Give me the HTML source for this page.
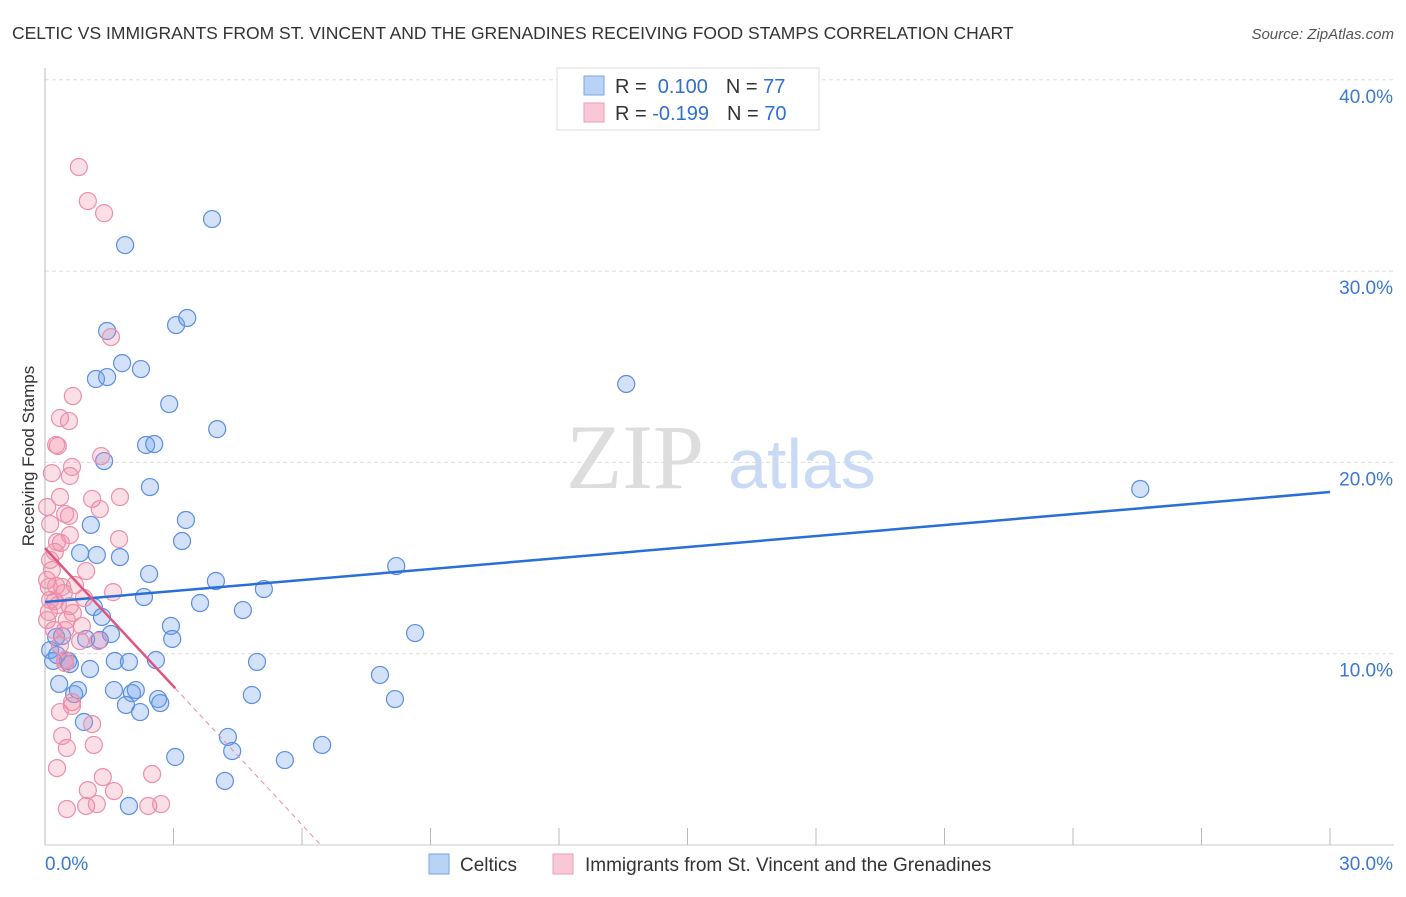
<!DOCTYPE html>
<html><head><meta charset="utf-8"><style>
body{margin:0;background:#fff;font-family:"Liberation Sans",sans-serif}
</style></head><body>
<svg id="chart" width="1406" height="892" xmlns="http://www.w3.org/2000/svg" font-family="Liberation Sans, sans-serif">
<text x="12" y="39" font-size="17.5" fill="#333">CELTIC VS IMMIGRANTS FROM ST. VINCENT AND THE GRENADINES RECEIVING FOOD STAMPS CORRELATION CHART</text>
<text x="1394" y="39" font-size="15" fill="#555" font-style="italic" text-anchor="end">Source: ZipAtlas.com</text>
<g>
<text x="635" y="488" font-size="92" fill="#ddd" font-family="Liberation Serif, serif" text-anchor="middle">ZIP</text>
<text x="802" y="488" font-size="70" fill="#c9daf4" text-anchor="middle">atlas</text>
</g>
<g id="grid"></g>
<g id="axes"></g>
<g id="pts"></g>
<g id="trends"></g>
<text transform="translate(34,456) rotate(-90)" font-size="17" fill="#333" text-anchor="middle">Receiving Food Stamps</text>
<g>
<rect x="557" y="68" width="262" height="62" fill="#fff" stroke="#ddd"/>
<rect x="584" y="76" width="20" height="19" fill="#b9d3f7" stroke="#7aa6e6"/>
<rect x="584" y="103" width="20" height="19" fill="#f9c8d6" stroke="#ee9db5"/>
<text x="615" y="93" font-size="20" fill="#333">R = <tspan fill="#2f6fd0">&#160;0.100</tspan><tspan dx="18">N = </tspan><tspan fill="#2f6fd0">77</tspan></text>
<text x="615" y="120" font-size="20" fill="#333">R = <tspan fill="#2f6fd0">-0.199</tspan><tspan dx="18">N = </tspan><tspan fill="#2f6fd0">70</tspan></text>
</g>
<g>
<rect x="429" y="854" width="20" height="20" fill="#b9d3f7" stroke="#7aa6e6"/>
<text x="460" y="871" font-size="19" fill="#333">Celtics</text>
<rect x="553" y="854" width="20" height="20" fill="#f9c8d6" stroke="#ee9db5"/>
<text x="585" y="871" font-size="19" fill="#333">Immigrants from St. Vincent and the Grenadines</text>
</g>
</svg>
<script>
const xTicks=[0,3,6,9,12,15,18,21,24,27,30];
const yTicks=[10,20,30,40];
const yTickLabels=["10.0%","20.0%","30.0%","40.0%"];
const xEndLabels=["0.0%","30.0%"];
const celticsX=[3.90,1.87,1.45,3.06,3.32,1.80,2.24,1.19,1.45,2.90,13.57,4.02,2.36,2.55,1.38,2.45,25.57,3.29,1.07,3.20,1.21,0.82,1.75,8.20,2.43,3.99,5.11,2.31,3.62,4.62,1.14,1.33,2.94,2.97,1.54,8.64,0.26,0.40,0.96,1.28,0.12,0.28,0.54,0.19,0.58,2.59,1.63,1.96,4.95,1.05,7.82,0.33,0.68,0.77,1.61,2.03,2.12,4.83,8.17,2.64,2.69,1.89,2.22,0.91,4.27,4.37,6.47,3.04,5.60,4.20,1.96];
const celticsY=[32.72,31.36,26.87,27.18,27.55,25.19,24.88,24.36,24.46,23.05,24.10,21.74,20.91,20.96,20.07,18.71,18.61,16.99,16.73,15.89,15.16,15.26,15.05,14.58,14.17,13.80,13.38,12.96,12.65,12.28,12.44,11.92,11.45,10.77,11.03,11.08,10.87,10.92,10.77,10.72,10.19,9.93,9.62,9.62,9.46,9.67,9.62,9.57,9.57,9.20,8.89,8.42,7.89,8.10,8.10,7.94,8.10,7.84,7.63,7.63,7.42,7.32,6.95,6.43,5.65,4.91,5.23,4.60,4.44,3.35,2.04];
const immX=[0.79,1.00,1.38,1.54,0.65,0.35,0.56,0.26,0.30,1.31,0.63,0.16,0.58,0.35,1.10,1.75,1.28,0.05,0.47,0.56,0.12,1.73,0.58,0.28,0.37,0.23,0.12,0.96,0.16,0.05,0.09,0.40,0.44,1.59,0.91,0.23,0.58,0.65,0.51,0.05,0.47,0.86,0.21,0.82,0.35,1.24,0.47,0.47,0.63,0.35,0.63,1.10,0.40,0.51,1.14,0.28,1.35,2.50,1.00,1.61,0.51,0.96,1.21,2.41,2.71,0.26,0.12,0.30,0.70,0.09];
const immY=[35.44,33.66,33.03,26.55,23.47,22.32,22.16,20.91,20.86,20.33,19.76,19.44,19.29,18.19,18.09,18.19,17.56,17.67,17.30,17.20,16.78,15.99,16.20,15.84,15.79,15.32,14.90,14.32,14.37,13.85,13.49,13.49,13.17,13.22,12.91,12.75,12.49,12.13,11.76,11.76,11.24,11.45,11.24,10.66,10.45,10.66,9.67,9.51,7.27,6.95,7.47,6.32,5.70,5.07,5.23,4.02,3.55,3.71,2.87,2.82,1.88,2.04,2.14,2.04,2.14,13.54,12.81,12.54,13.59,12.18];
const blueTrend=[12.7,18.45];
const pinkTrend=[15.52,-2.41];
const pinkSolidEnd=3.04;

const NS="http://www.w3.org/2000/svg";
const X0=45,X1=1330,Y0=845,YPER=19.13;
const sx=v=>X0+(v/30)*(X1-X0);
const sy=v=>Y0-v*YPER;
function mk(tag,attrs,parent){const e=document.createElementNS(NS,tag);for(const k in attrs)e.setAttribute(k,attrs[k]);parent.appendChild(e);return e;}
const grid=document.getElementById('grid'),axes=document.getElementById('axes'),pts=document.getElementById('pts'),tr=document.getElementById('trends');
yTicks.forEach((t,i)=>{
  const l=mk('line',{x1:X0,x2:1394,y1:sy(t),y2:sy(t),stroke:'#ddd','stroke-dasharray':'4,3'},grid);
  
  
  const tx=mk('text',{x:1393,y:sy(t)+23,'font-size':19,fill:'#3a78d4','text-anchor':'end'},axes);
  tx.textContent=yTickLabels[i];
  
  
});
const ax=mk('line',{x1:X0,x2:1394,y1:Y0,y2:Y0,stroke:'#ccc'},axes);


const ay=mk('line',{x1:X0,x2:X0,y1:68,y2:Y0,stroke:'#bbb'},axes);


xTicks.forEach(t=>{
  const l=mk('line',{x1:sx(t),x2:sx(t),y1:Y0-17,y2:Y0,stroke:'#bbb'},axes);
  
  
});
[[0,'start',xEndLabels[0]],[30,'end',xEndLabels[1]]].forEach(([v,a,s])=>{
  const tx=mk('text',{x:v==0?45:1393,y:870,'font-size':19,fill:'#3a78d4','text-anchor':a},axes);
  tx.textContent=s;
  
  
});
function series(xs,ys,fill,stroke,name){
  xs.forEach((x,i)=>{
    const c=mk('circle',{cx:sx(x),cy:sy(ys[i]),r:8.5,fill:fill,stroke:stroke,'stroke-width':1.2},pts);
    
    
  });
}
series(celticsX,celticsY,'rgba(110,160,235,0.3)','#5b8ee0','celtics-point');
series(immX,immY,'rgba(242,140,170,0.28)','#eb8fab','immigrants-point');
const bl=mk('line',{x1:sx(0),y1:sy(blueTrend[0]),x2:sx(30),y2:sy(blueTrend[1]),stroke:'#2a6fd6','stroke-width':2.5},tr);


const zx=-pinkTrend[0]/pinkTrend[1];
const pl=mk('line',{x1:sx(0),y1:sy(pinkTrend[0]),x2:sx(pinkSolidEnd),y2:sy(pinkTrend[0]+pinkTrend[1]*pinkSolidEnd),stroke:'#e0557f','stroke-width':2.5},tr);


const pd=mk('line',{x1:sx(pinkSolidEnd),y1:sy(pinkTrend[0]+pinkTrend[1]*pinkSolidEnd),x2:sx(zx),y2:sy(0),stroke:'#e98aa7','stroke-width':1,'stroke-dasharray':'5,4'},tr);


</script>
</body></html>
